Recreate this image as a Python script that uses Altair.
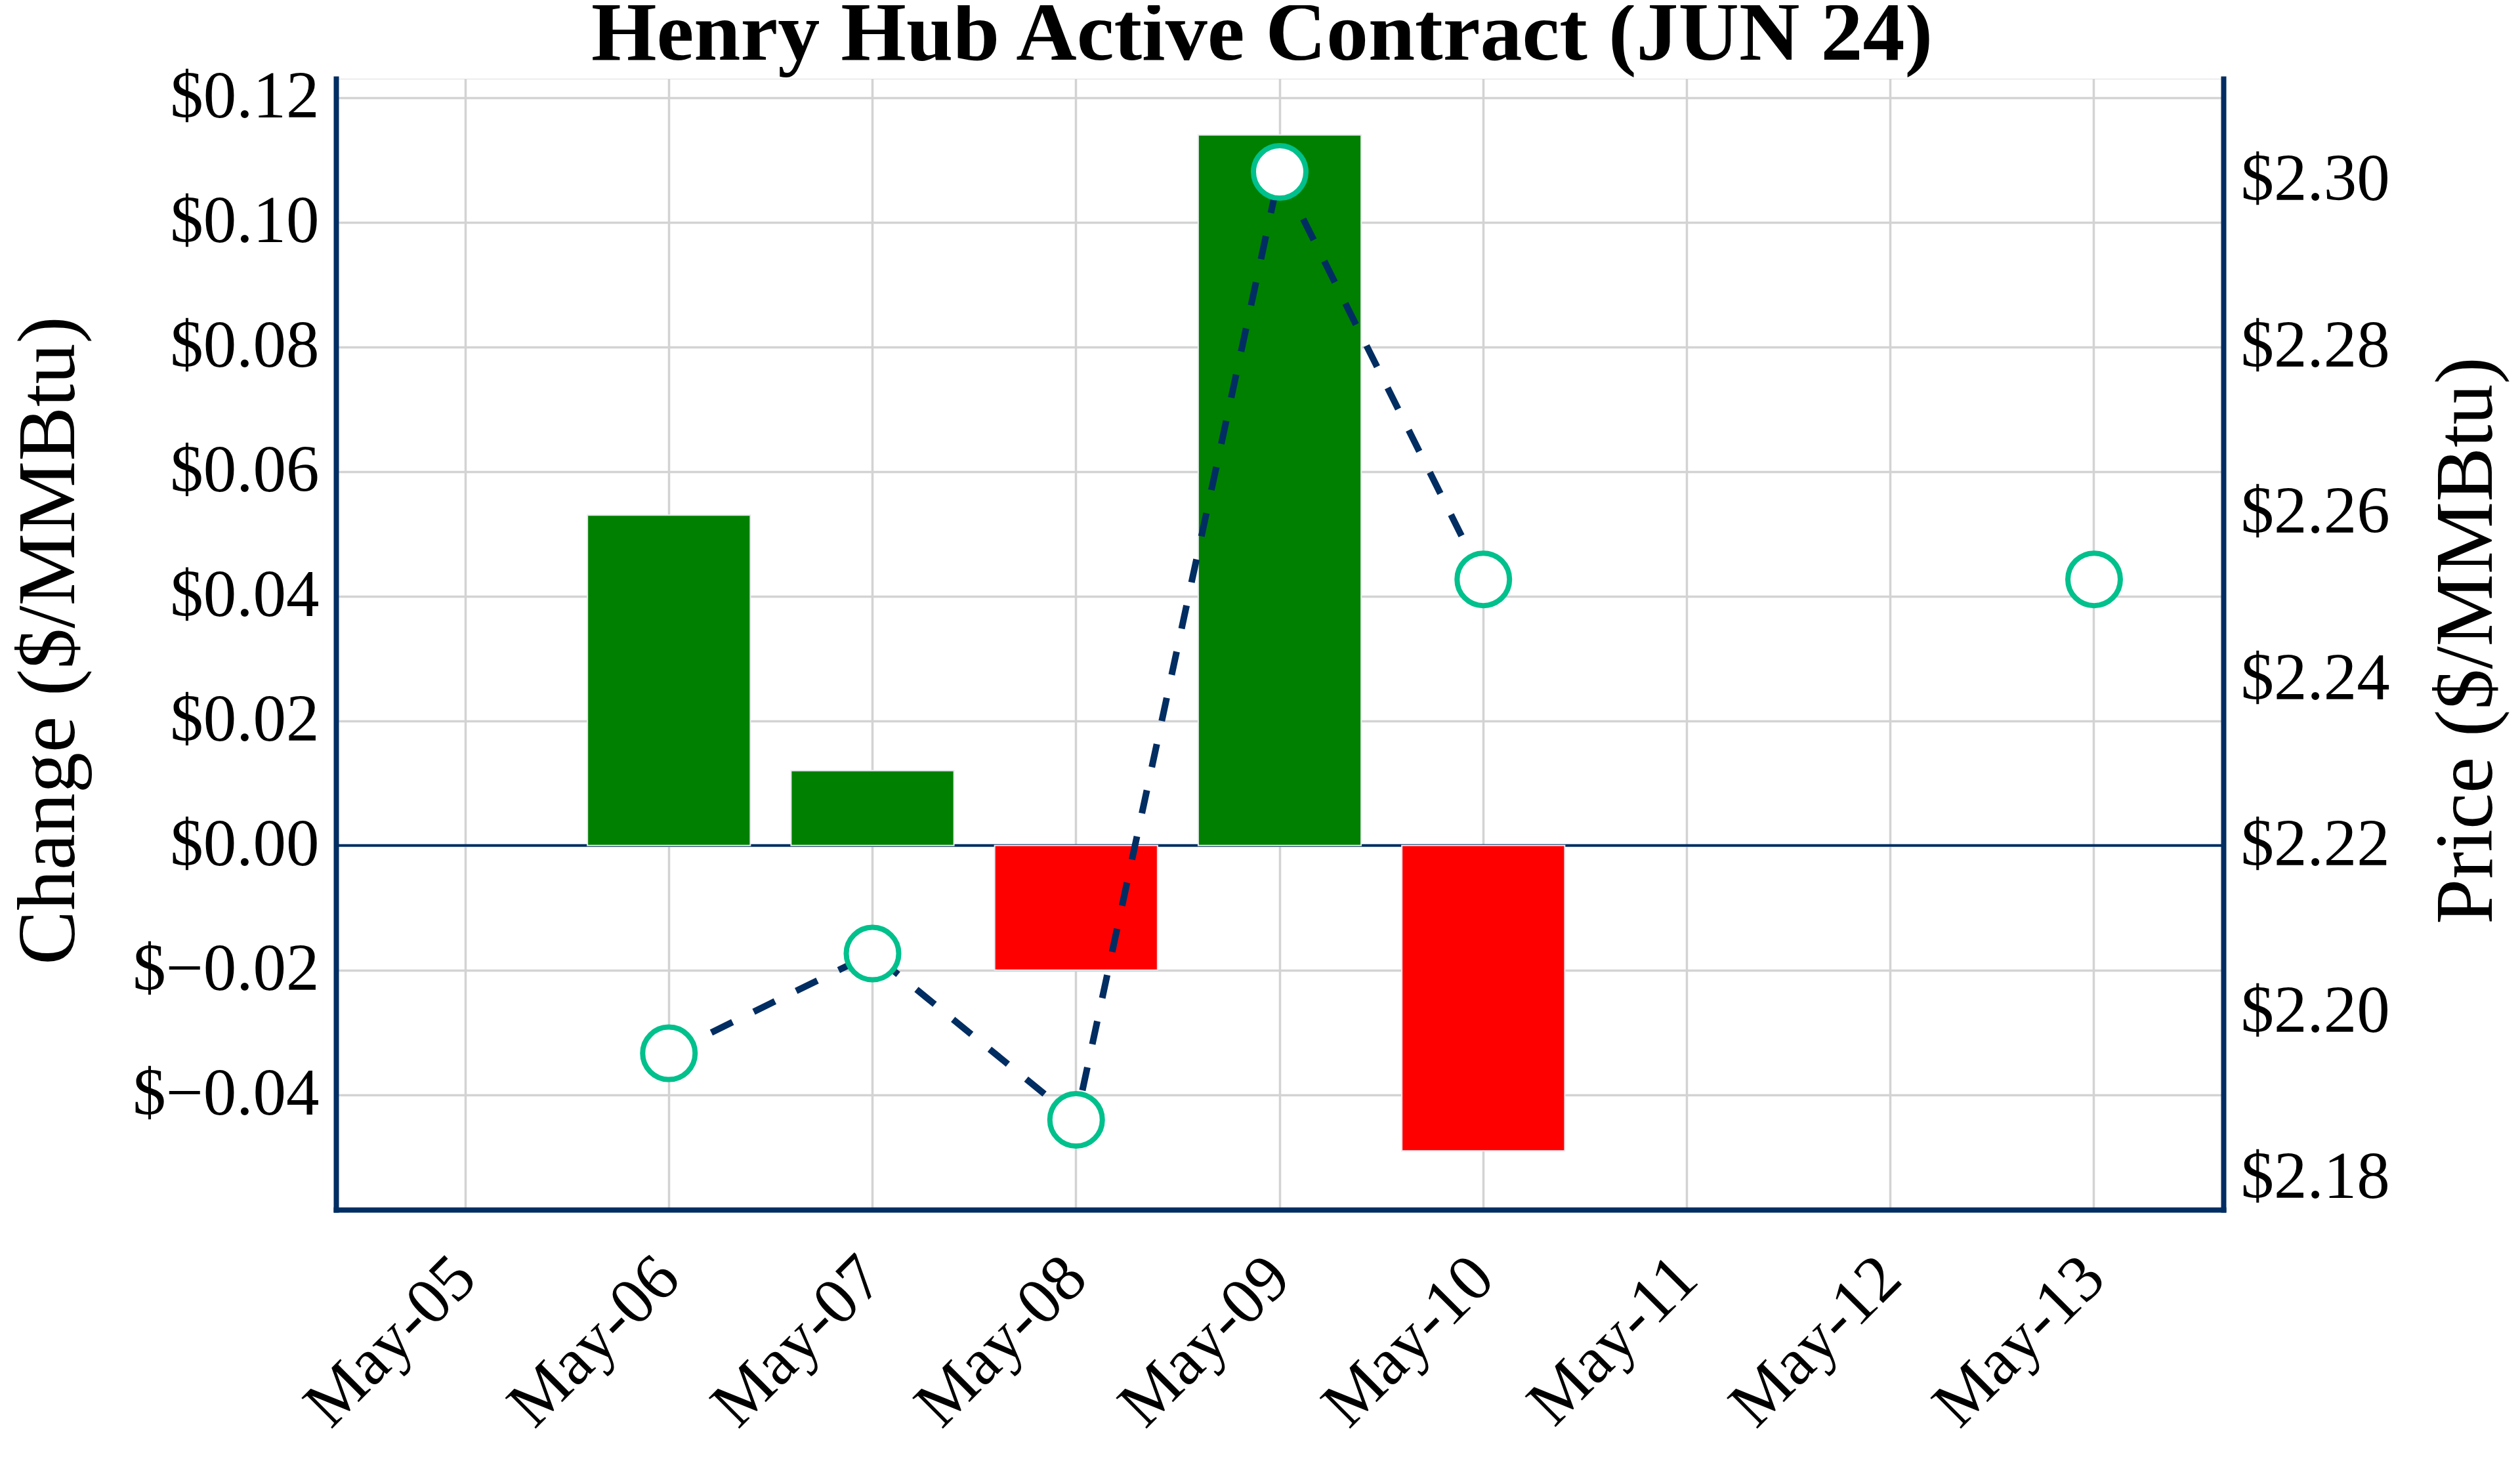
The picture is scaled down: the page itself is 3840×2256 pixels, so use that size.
import altair as alt
import pandas as pd

# ---- data ----
dates = ["May-05", "May-06", "May-07", "May-08", "May-09",
         "May-10", "May-11", "May-12", "May-13"]
change_dates = ["May-06", "May-07", "May-08", "May-09", "May-10"]
changes = [0.053, 0.012, -0.020, 0.114, -0.049]
price_dates = ["May-06", "May-07", "May-08", "May-09", "May-10", "May-13"]
prices = [2.195, 2.207, 2.187, 2.301, 2.252, 2.252]
price_segments = [1, 1, 1, 1, 1, 2]
left_ticks = [-0.04, -0.02, 0.0, 0.02, 0.04, 0.06, 0.08, 0.10, 0.12]
right_ticks = [2.18, 2.20, 2.22, 2.24, 2.26, 2.28, 2.30]
zero_line = [0.0]
chart_title = "Henry Hub Active Contract (JUN 24)"
left_title = "Change ($/MMBtu)"
right_title = "Price ($/MMBtu)"

# ---- styles ----
FONT = "Liberation Serif"
NAVY = "#002D62"
TEAL = "#00C08C"
GREEN = "#008000"
RED = "#FF0000"
GRID = "#D3D3D3"

bar_df = pd.DataFrame({"date": change_dates, "change": changes})
rule_df = pd.DataFrame({"change": zero_line})
price_df = pd.DataFrame({"date": price_dates, "price": prices, "seg": price_segments})

label_expr = "'$' + replace(format(datum.value, '.2f'), '-', '\u2212')"

x_enc = alt.X(
    "date:N",
    sort=dates,
    scale=alt.Scale(domain=dates, paddingInner=0.2, paddingOuter=0.235),
    axis=alt.Axis(
        title=None, labelAngle=315, labelAlign="right", labelBaseline="middle",
        labelPadding=88, ticks=False, tickSize=0, bandPosition=0.5, labelLimit=0,
        grid=True, gridColor=GRID, gridWidth=3.5,
        labelFont=FONT, labelFontSize=101, labelColor="black",
        domainColor=NAVY, domainWidth=8, domainCap="square",
    ),
)

y_left = alt.Y(
    "change:Q",
    scale=alt.Scale(domain=[-0.05845, 0.12302], nice=False, zero=False),
    axis=alt.Axis(
        title=left_title, orient="left", values=left_ticks, labelExpr=label_expr,
        ticks=False, tickSize=0, labelPadding=26, labelLimit=0,
        grid=True, gridColor=GRID, gridWidth=3.5,
        labelFont=FONT, labelFontSize=101, labelColor="black",
        titleFont=FONT, titleFontSize=124, titleFontWeight="normal", titleColor="black",
        titleAngle=270, titleAlign="center", titleBaseline="middle", titleLimit=0,
        titleX=-437, titleY=856,
        domainColor=NAVY, domainWidth=8, domainCap="square",
    ),
)

y_right = alt.Y(
    "price:Q",
    scale=alt.Scale(domain=[2.17619, 2.31221], nice=False, zero=False),
    axis=alt.Axis(
        title=right_title, orient="right", values=right_ticks, labelExpr=label_expr,
        ticks=False, tickSize=0, labelPadding=26, labelLimit=0, grid=False,
        labelFont=FONT, labelFontSize=101, labelColor="black",
        titleFont=FONT, titleFontSize=124, titleFontWeight="normal", titleColor="black",
        titleAngle=270, titleAlign="center", titleBaseline="middle", titleLimit=0,
        titleX=371, titleY=856,
        domainColor=NAVY, domainWidth=8, domainCap="square",
    ),
)

rule = alt.Chart(rule_df).mark_rule(color=NAVY, strokeWidth=4).encode(y=y_left)

bars = alt.Chart(bar_df).mark_bar(stroke="#E8E8EE", strokeWidth=2).encode(
    x=x_enc,
    y=y_left,
    color=alt.condition(alt.datum.change > 0, alt.value(GREEN), alt.value(RED)),
)

line = alt.Chart(price_df).mark_line(
    color=NAVY, strokeWidth=10, strokeDash=[36, 36]
).encode(x=x_enc, y=y_right, detail="seg:N")

points = alt.Chart(price_df).mark_point(
    shape="circle", size=6400, filled=True, fill="white", stroke=TEAL,
    strokeWidth=8, opacity=1,
).encode(x=x_enc, y=y_right)

left_layer = alt.layer(rule, bars)
right_layer = alt.layer(line, points)

chart = (
    alt.layer(left_layer, right_layer)
    .resolve_scale(y="independent")
    .properties(
        width=2876,
        height=1724,
        autosize=alt.AutoSizeParams(type="none"),
        padding={"left": 504, "top": 112, "right": 436, "bottom": 396},
        title=alt.TitleParams(
            text=chart_title, font=FONT, fontSize=128, fontWeight="bold",
            color="black", anchor="middle", dx=-27, dy=130, offset=9,
            baseline="alphabetic", limit=0,
        ),
    )
    .configure_view(strokeWidth=0)
    .configure(background="white")
)

chart.save("out.html", embed_options={"renderer": "svg", "actions": False})
